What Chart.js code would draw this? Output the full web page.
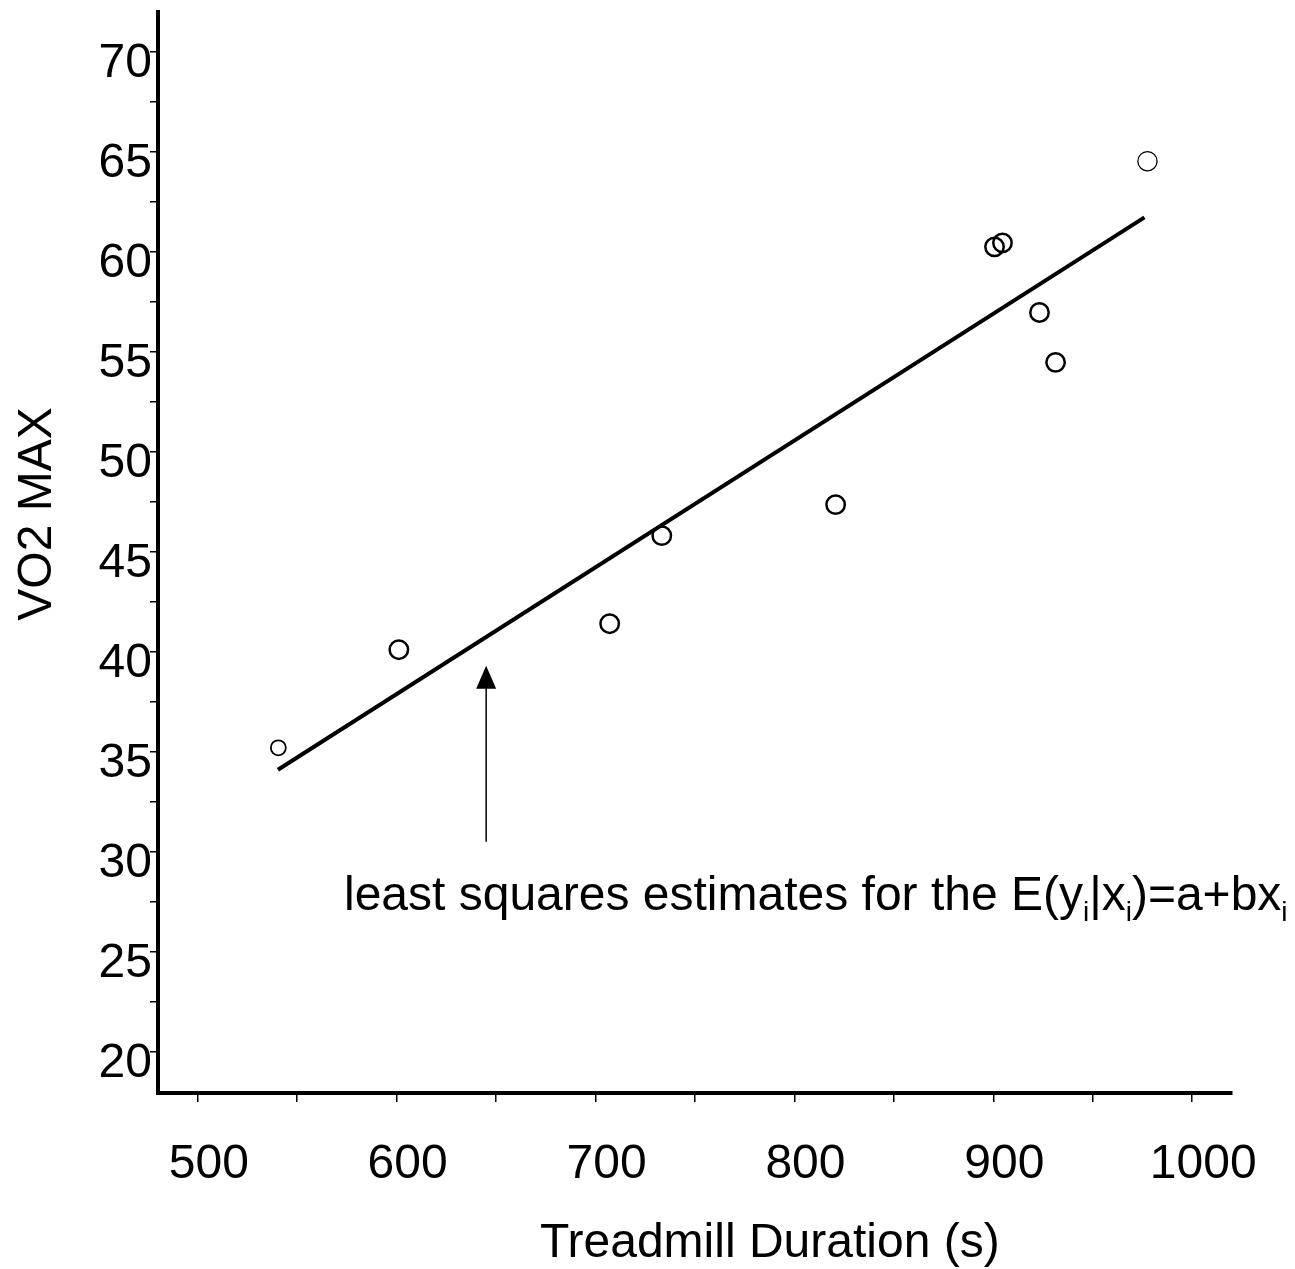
<!DOCTYPE html>
<html>
<head>
<meta charset="utf-8">
<script src="https://cdn.jsdelivr.net/npm/chart.js@4.4.1/dist/chart.umd.min.js"></script>
<style>
  html, body { margin: 0; padding: 0; background: #fff; }
  canvas { display: block; }
</style>
</head>
<body>
<canvas id="chart" width="1295" height="1269"></canvas>
<script>
// Treadmill test: duration (s) against VO2 max
const durations = [540.5, 601.1, 707.1, 733.3, 820.7, 900.6, 904.6, 923.2, 931.3, 977.5];
const vo2max    = [35.2, 40.1, 41.4, 45.8, 47.35, 60.23, 60.43, 56.95, 54.46, 64.51];

// End points of the fitted regression line
const fitX = [540.3, 976.0];
const fitY = [34.1, 61.7];

// Pointer arrow: x position, tail and tip values
const arrowX = 645;
const arrowY = [30.5, 39.3];

// Tick positions (labels every 100 s and every 5 units)
const xTicks = [500, 550, 600, 650, 700, 750, 800, 850, 900, 950, 1000];
const yTicks = [20, 22.5, 25, 27.5, 30, 32.5, 35, 37.5, 40, 42.5, 45, 47.5, 50, 52.5, 55, 57.5, 60, 62.5, 65, 67.5, 70];

const FONT = "'Liberation Sans', Arial, Helvetica, sans-serif";

const overlay = {
  id: 'overlay',
  afterDraw(chart) {
    const { ctx, scales: { x, y } } = chart;
    ctx.save();
    ctx.fillStyle = '#000';
    ctx.strokeStyle = '#000';

    // arrow pointing at the fitted line
    const ax = x.getPixelForValue(arrowX);
    const tail = y.getPixelForValue(arrowY[0]);
    const tip = y.getPixelForValue(arrowY[1]);
    ctx.lineWidth = 1.5;
    ctx.beginPath();
    ctx.moveTo(ax, tail);
    ctx.lineTo(ax, tip + 20);
    ctx.stroke();
    ctx.beginPath();
    ctx.moveTo(ax, tip);
    ctx.lineTo(ax - 10, tip + 23);
    ctx.lineTo(ax + 10, tip + 23);
    ctx.closePath();
    ctx.fill();

    // annotation with subscripts
    const big = '48px ' + FONT;
    const small = '28px ' + FONT;
    const parts = [
      ['least squares estimates for the E(y', big, 0],
      ['i', small, 11],
      ['|x', big, 0],
      ['i', small, 11],
      [')=a+bx', big, 0],
      ['i', small, 11]
    ];
    let tx = 344;
    const base = 910;
    ctx.textBaseline = 'alphabetic';
    ctx.textAlign = 'left';
    for (const [s, f, dy] of parts) {
      ctx.font = f;
      ctx.fillText(s, tx, base + dy);
      tx += ctx.measureText(s).width;
    }

    // axis titles
    ctx.font = big;
    ctx.fillText('Treadmill Duration (s)', 540, 1257);
    ctx.translate(51, 514);
    ctx.rotate(-Math.PI / 2);
    ctx.textAlign = 'center';
    ctx.fillText('VO2 MAX', 0, 0);
    ctx.restore();
  }
};

new Chart(document.getElementById('chart'), {
  type: 'scatter',
  data: {
    datasets: [
      {
        label: 'fit',
        data: fitX.map((v, i) => ({ x: v, y: fitY[i] })),
        showLine: true,
        borderColor: '#000',
        borderWidth: 4,
        pointRadius: 0,
        fill: false
      },
      {
        label: 'VO2 MAX',
        data: durations.map((v, i) => ({ x: v, y: vo2max[i] })),
        pointStyle: 'circle',
        pointRadius: [7.5, 9.2, 9.2, 9.2, 9.2, 9.2, 9.2, 9.2, 9.2, 9.6],
        pointBorderWidth: [1.8, 2.5, 2.5, 2.5, 2.5, 2.5, 2.5, 2.5, 2.5, 1.3],
        borderColor: '#000',
        backgroundColor: 'rgba(0,0,0,0)'
      }
    ]
  },
  options: {
    responsive: false,
    devicePixelRatio: 1,
    animation: false,
    layout: { padding: { top: 4, right: 63, left: 0, bottom: 0 } },
    plugins: { legend: { display: false }, tooltip: { enabled: false } },
    scales: {
      x: {
        type: 'linear',
        min: 480,
        max: 1020,
        afterBuildTicks: axis => { axis.ticks = xTicks.map(v => ({ value: v })); },
        afterFit: axis => {
          axis.height = 176;
          axis.paddingLeft = 0;
          axis.paddingRight = 0;
        },
        border: { display: true, color: '#000', width: 4 },
        grid: { drawOnChartArea: false, drawTicks: true, tickLength: 9, color: '#000', lineWidth: 1.5 },
        ticks: {
          color: '#000',
          font: { family: FONT, size: 48 },
          padding: 34,
          labelOffset: 11,
          maxRotation: 0,
          autoSkip: false,
          callback: v => (v % 100 === 0 ? String(v) : '')
        }
      },
      y: {
        type: 'linear',
        min: 17.95,
        max: 71.98,
        afterBuildTicks: axis => { axis.ticks = yTicks.map(v => ({ value: v })); },
        afterFit: axis => {
          axis.width = 158;
          axis.paddingTop = 0;
          axis.paddingBottom = 0;
        },
        border: { display: true, color: '#000', width: 4 },
        grid: { drawOnChartArea: false, drawTicks: true, tickLength: 8, color: '#000', lineWidth: 1.5 },
        ticks: {
          color: '#000',
          font: { family: FONT, size: 48 },
          padding: -2,
          labelOffset: 12,
          autoSkip: false,
          callback: v => (v % 5 === 0 ? String(v) : '')
        }
      }
    }
  },
  plugins: [overlay]
});
</script>
</body>
</html>
